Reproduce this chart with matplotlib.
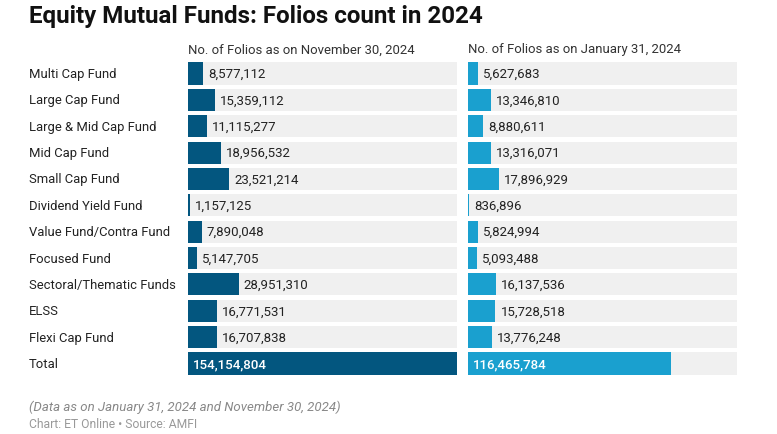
import matplotlib
matplotlib.use('Agg')
import matplotlib.pyplot as plt
from matplotlib.transforms import blended_transform_factory

plt.rcParams['font.family'] = ['Roboto', 'DejaVu Sans']

# data
funds = ['Multi Cap Fund', 'Large Cap Fund', 'Large & Mid Cap Fund', 'Mid Cap Fund',
         'Small Cap Fund', 'Dividend Yield Fund', 'Value Fund/Contra Fund', 'Focused Fund',
         'Sectoral/Thematic Funds', 'ELSS', 'Flexi Cap Fund', 'Total']
nov_2024 = [8577112, 15359112, 11115277, 18956532, 23521214, 1157125, 7890048,
            5147705, 28951310, 16771531, 16707838, 154154804]
jan_2024 = [5627683, 13346810, 8880611, 13316071, 17896929, 836896, 5824994,
            5093488, 16137536, 15728518, 13776248, 116465784]
col_titles = ['No. of Folios as on November 30, 2024', 'No. of Folios as on January 31, 2024']

W, H = 777, 435
fig = plt.figure(figsize=(W / 100, H / 100), dpi=100)

row_h = 26.36
top = 74.5 - row_h / 2
bottom = 364.5 + row_h / 2
vmax = max(nov_2024)


def px_axes(x0, x1):
    return fig.add_axes([x0 / W, 1 - bottom / H, (x1 - x0) / W, (bottom - top) / H])


panels = [(188, 457, nov_2024, '#03567f'), (468, 737, jan_2024, '#1aa0cf')]
axes = []
for (x0, x1, vals, color), title in zip(panels, col_titles):
    ax = px_axes(x0, x1)
    ys = list(range(len(vals)))
    ax.barh(ys, [vmax] * len(vals), height=0.835, color='#f0f0f0', left=0)
    ax.barh(ys, vals, height=0.835, color=color)
    ax.set_xlim(0, vmax)
    ax.set_ylim(len(vals) - 0.5, -0.5)
    ax.axis('off')
    pad = vmax * 5 / (x1 - x0)
    for y, v in zip(ys, vals):
        txt = f'{v:,}'
        if y == len(vals) - 1:
            ax.text(pad, y, txt, color='white', fontsize=9.6, fontweight='medium',
                    va='center', ha='left')
        else:
            ax.text(v + pad, y, txt, color='#222222', fontsize=9.5, va='center', ha='left')
    fig.text(x0 / W, 1 - 50 / H, title, fontsize=9.45, color='#333333', va='center', ha='left')
    axes.append(ax)

tr = blended_transform_factory(fig.transFigure, axes[0].transData)
for y, name in enumerate(funds):
    axes[0].text(29 / W, y, name, transform=tr, fontsize=9.4, color='#222222',
                 va='center', ha='left')

fig.text(29 / W, 1 - 17 / H, 'Equity Mutual Funds: Folios count in 2024', fontsize=17.4,
         fontweight='bold', color='#111111', va='center', ha='left')
fig.text(29 / W, 1 - 407 / H, '(Data as on January 31, 2024 and November 30, 2024)',
         fontsize=9.55, style='italic', color='#888888', va='center', ha='left')
fig.text(29 / W, 1 - 425 / H, 'Chart: ET Online \u2022 Source: AMFI',
         fontsize=8.7, color='#999999', va='center', ha='left')

fig.savefig('out.png', dpi=100, facecolor='white')
